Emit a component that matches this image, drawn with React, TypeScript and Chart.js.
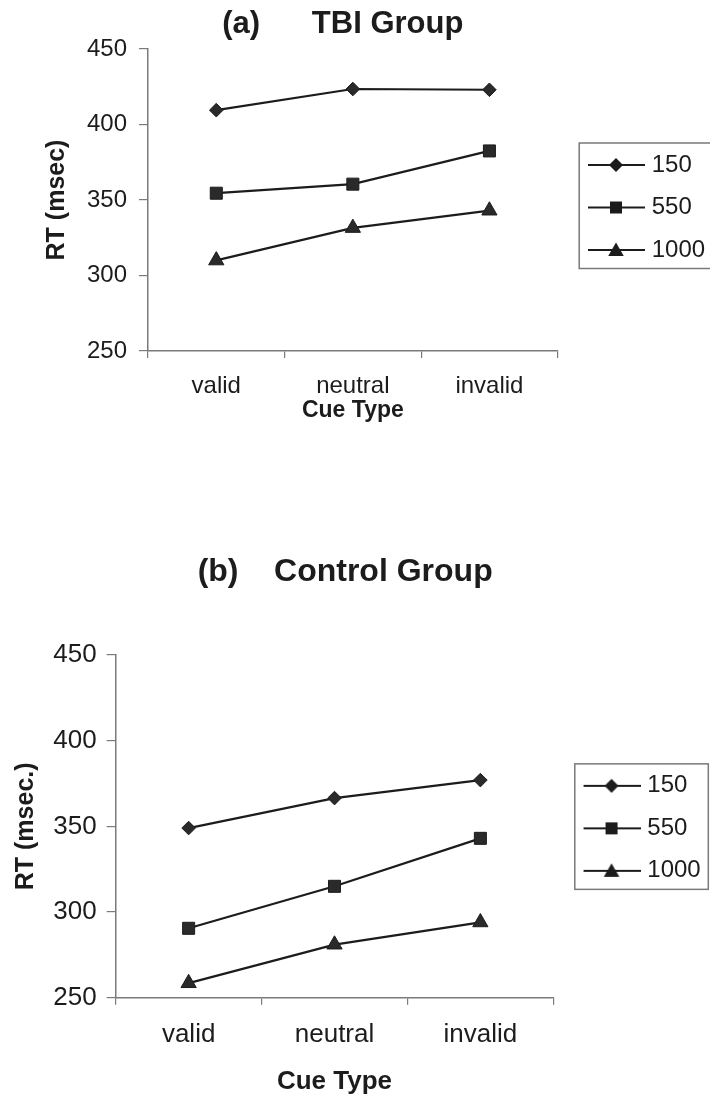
import React, { useEffect, useRef } from "react";
import { Chart, registerables } from "chart.js";

Chart.register(...registerables);

// ---------- data ----------
const categories = ["valid", "neutral", "invalid"];
const seriesLabels = ["150", "550", "1000"];
const yTicks = [250, 300, 350, 400, 450];

const tbi150 = [409.5, 423.5, 423];
const tbi550 = [354.5, 360.5, 382.5];
const tbi1000 = [310, 331.5, 343];

const ctl150 = [349, 366.5, 377];
const ctl550 = [290.5, 315, 343];
const ctl1000 = [258.5, 281, 294];

const xTitle = "Cue Type";

// ---------- styles ----------
const FONT = "'Liberation Sans', Arial, Helvetica, sans-serif";
const INK = "#1c1c1c";
const AXIS = "#7a7a7a";
const markerStyles = ["rectRot", "rect", "triangle"];
const markerRadius = [6.8, 8.5, 8.8];

type Panel = {
  title: string;
  yTitle: string;
  series: number[][];
  left: number;
  top: number;
  width: number;
  height: number;
  titleFont: number;
  titlePadTop: number;
  titlePadBottom: number;
  yWidth: number;
  yTickFont: number;
  yTickPad: number;
  yTitleFont: number;
  yTitlePadTop: number;
  xHeight: number;
  xTickFont: number;
  xTickPad: number;
  xTitleFont: number;
  xTitlePadBottom: number;
  padRight: number;
  legendShift: number;
};

const LEGEND_FONT = 24;
const LEGEND_PAD = 18.5;
const LEGEND_BOXW = 63.5;
const LEGEND_W = 148;

const panelA: Panel = {
  title: "(a)      TBI Group",
  yTitle: "RT (msec)",
  series: [tbi150, tbi550, tbi1000],
  left: -20,
  top: 0,
  width: 732,
  height: 470,
  titleFont: 31,
  titlePadTop: 5.4,
  titlePadBottom: 6.4,
  yWidth: 168,
  yTickFont: 24,
  yTickPad: 12,
  yTitleFont: 25,
  yTitlePadTop: 62.5,
  xHeight: 119,
  xTickFont: 24,
  xTickPad: 14.3,
  xTitleFont: 23,
  xTitlePadBottom: 45.2,
  padRight: 732 - 577.7 - LEGEND_W,
  legendShift: 7.5,
};

const panelB: Panel = {
  title: "(b)    Control Group",
  yTitle: "RT (msec.)",
  series: [ctl150, ctl550, ctl1000],
  left: -11,
  top: 500,
  width: 724,
  height: 596,
  titleFont: 32,
  titlePadTop: 53.3,
  titlePadBottom: 63.3,
  yWidth: 126.7,
  yTickFont: 26,
  yTickPad: 10,
  yTitleFont: 25,
  yTitlePadTop: 22,
  xHeight: 98.3,
  xTickFont: 26,
  xTickPad: 14.7,
  xTitleFont: 26,
  xTitlePadBottom: -1.6,
  padRight: 724 - 564.3 - LEGEND_W,
  legendShift: 2,
};

function makeIcon(kind: number): HTMLCanvasElement {
  const c = document.createElement("canvas");
  c.width = 74;
  c.height = 26;
  const g = c.getContext("2d")!;
  const cy = 13;
  g.strokeStyle = INK;
  g.lineWidth = 2;
  g.beginPath();
  g.moveTo(17, cy);
  g.lineTo(74, cy);
  g.stroke();
  const cx = 45;
  g.fillStyle = INK;
  g.beginPath();
  if (kind === 0) {
    const r = 7;
    g.moveTo(cx, cy - r);
    g.lineTo(cx + r, cy);
    g.lineTo(cx, cy + r);
    g.lineTo(cx - r, cy);
  } else if (kind === 1) {
    g.rect(cx - 6, cy - 6, 12, 12);
  } else {
    const r = 9;
    for (let k = 0; k < 3; k++) {
      const a = (k * 2 * Math.PI) / 3;
      const px = cx + Math.sin(a) * r;
      const py = cy + 1.5 - Math.cos(a) * r;
      if (k === 0) g.moveTo(px, py);
      else g.lineTo(px, py);
    }
  }
  g.closePath();
  g.fill();
  return c;
}

const legendFrame = {
  id: "legendFrame",
  afterLayout(chart: any, _args: any, opts: any) {
    const lg = chart.legend;
    if (!lg) return;
    const s = opts.shift || 0;
    lg.top += s;
    lg.bottom += s;
  },
  afterDraw(chart: any) {
    const lg = chart.legend;
    if (!lg || !lg.columnSizes || !lg.columnSizes.length) return;
    const ca = chart.chartArea;
    const n = chart.data.datasets.length;
    const y0 =
      (lg.top + LEGEND_PAD + lg.bottom - lg.columnSizes[0].height) / 2;
    const first = y0 + LEGEND_FONT / 2;
    const last = first + (n - 1) * (LEGEND_FONT + LEGEND_PAD);
    const ctx = chart.ctx;
    ctx.save();
    ctx.strokeStyle = AXIS;
    ctx.lineWidth = 1.5;
    const x1 = ca.right + 21.5;
    const x2 = ca.right + 155;
    ctx.strokeRect(x1, first - 22, x2 - x1, last + 18.5 - (first - 22));
    ctx.restore();
  },
};

function ChartPanel({ p }: { p: Panel }) {
  const ref = useRef<HTMLCanvasElement | null>(null);
  useEffect(() => {
    if (!ref.current) return;
    const icons = [0, 1, 2].map(makeIcon);
    const chart = new Chart(ref.current, {
      type: "line",
      data: {
        labels: categories,
        datasets: p.series.map((vals, i) => ({
          label: seriesLabels[i],
          data: vals,
          borderColor: INK,
          backgroundColor: INK,
          borderWidth: 2.2,
          pointStyle: markerStyles[i] as any,
          pointRadius: markerRadius[i],
          pointBackgroundColor: "#2a2a2a",
          pointBorderColor: INK,
          pointBorderWidth: 1,
          tension: 0,
          fill: false,
        })),
      },
      options: {
        animation: false,
        responsive: false,
        devicePixelRatio: 1,
        events: [],
        layout: { padding: { left: 0, top: 0, bottom: 0, right: p.padRight } },
        scales: {
          x: {
            type: "category",
            offset: true,
            grid: {
              offset: true,
              drawOnChartArea: false,
              drawTicks: true,
              tickLength: 7,
              color: AXIS,
              lineWidth: 1.2,
            },
            border: { display: true, color: AXIS, width: 1.5 },
            ticks: {
              color: INK,
              padding: p.xTickPad,
              font: { family: FONT, size: p.xTickFont },
              maxRotation: 0,
            },
            title: {
              display: true,
              text: xTitle,
              color: INK,
              font: { family: FONT, size: p.xTitleFont, weight: "bold" },
              padding: { top: 0, bottom: p.xTitlePadBottom },
            },
            afterFit: (s: any) => {
              s.height = p.xHeight;
            },
          },
          y: {
            min: yTicks[0],
            max: yTicks[yTicks.length - 1],
            grid: {
              drawOnChartArea: false,
              drawTicks: true,
              tickLength: 9,
              color: AXIS,
              lineWidth: 1.2,
            },
            border: { display: true, color: AXIS, width: 1.5 },
            ticks: {
              stepSize: yTicks[1] - yTicks[0],
              color: INK,
              padding: p.yTickPad,
              font: { family: FONT, size: p.yTickFont },
            },
            title: {
              display: true,
              text: p.yTitle,
              color: INK,
              font: { family: FONT, size: p.yTitleFont, weight: "bold" },
              padding: { top: p.yTitlePadTop, bottom: 0 },
            },
            afterFit: (s: any) => {
              s.width = p.yWidth;
            },
          },
        },
        plugins: {
          title: {
            display: true,
            text: p.title,
            color: INK,
            font: { family: FONT, size: p.titleFont, weight: "bold" },
            padding: { top: p.titlePadTop, bottom: p.titlePadBottom },
          },
          legend: {
            display: true,
            position: "right",
            align: "center",
            fullSize: false,
            maxWidth: LEGEND_W,
            labels: {
              usePointStyle: true,
              pointStyleWidth: LEGEND_BOXW,
              padding: LEGEND_PAD,
              color: INK,
              font: { family: FONT, size: LEGEND_FONT },
              generateLabels: (c: any) =>
                c.data.datasets.map((ds: any, i: number) => ({
                  text: ds.label,
                  pointStyle: icons[i],
                  fillStyle: INK,
                  strokeStyle: INK,
                  fontColor: INK,
                  lineWidth: 0,
                  hidden: false,
                  datasetIndex: i,
                })),
            },
          },
          tooltip: { enabled: false },
          legendFrame: { shift: p.legendShift },
        } as any,
      },
      plugins: [legendFrame as any],
    });
    return () => chart.destroy();
  }, [p]);
  return (
    <canvas
      ref={ref}
      width={p.width}
      height={p.height}
      style={{
        position: "absolute",
        left: p.left,
        top: p.top,
        width: p.width,
        height: p.height,
      }}
    />
  );
}

export default function App() {
  return (
    <div
      style={{
        position: "absolute",
        left: 0,
        top: 0,
        width: 710,
        height: 1096,
        overflow: "hidden",
        background: "#ffffff",
      }}
    >
      <ChartPanel p={panelA} />
      <ChartPanel p={panelB} />
    </div>
  );
}
